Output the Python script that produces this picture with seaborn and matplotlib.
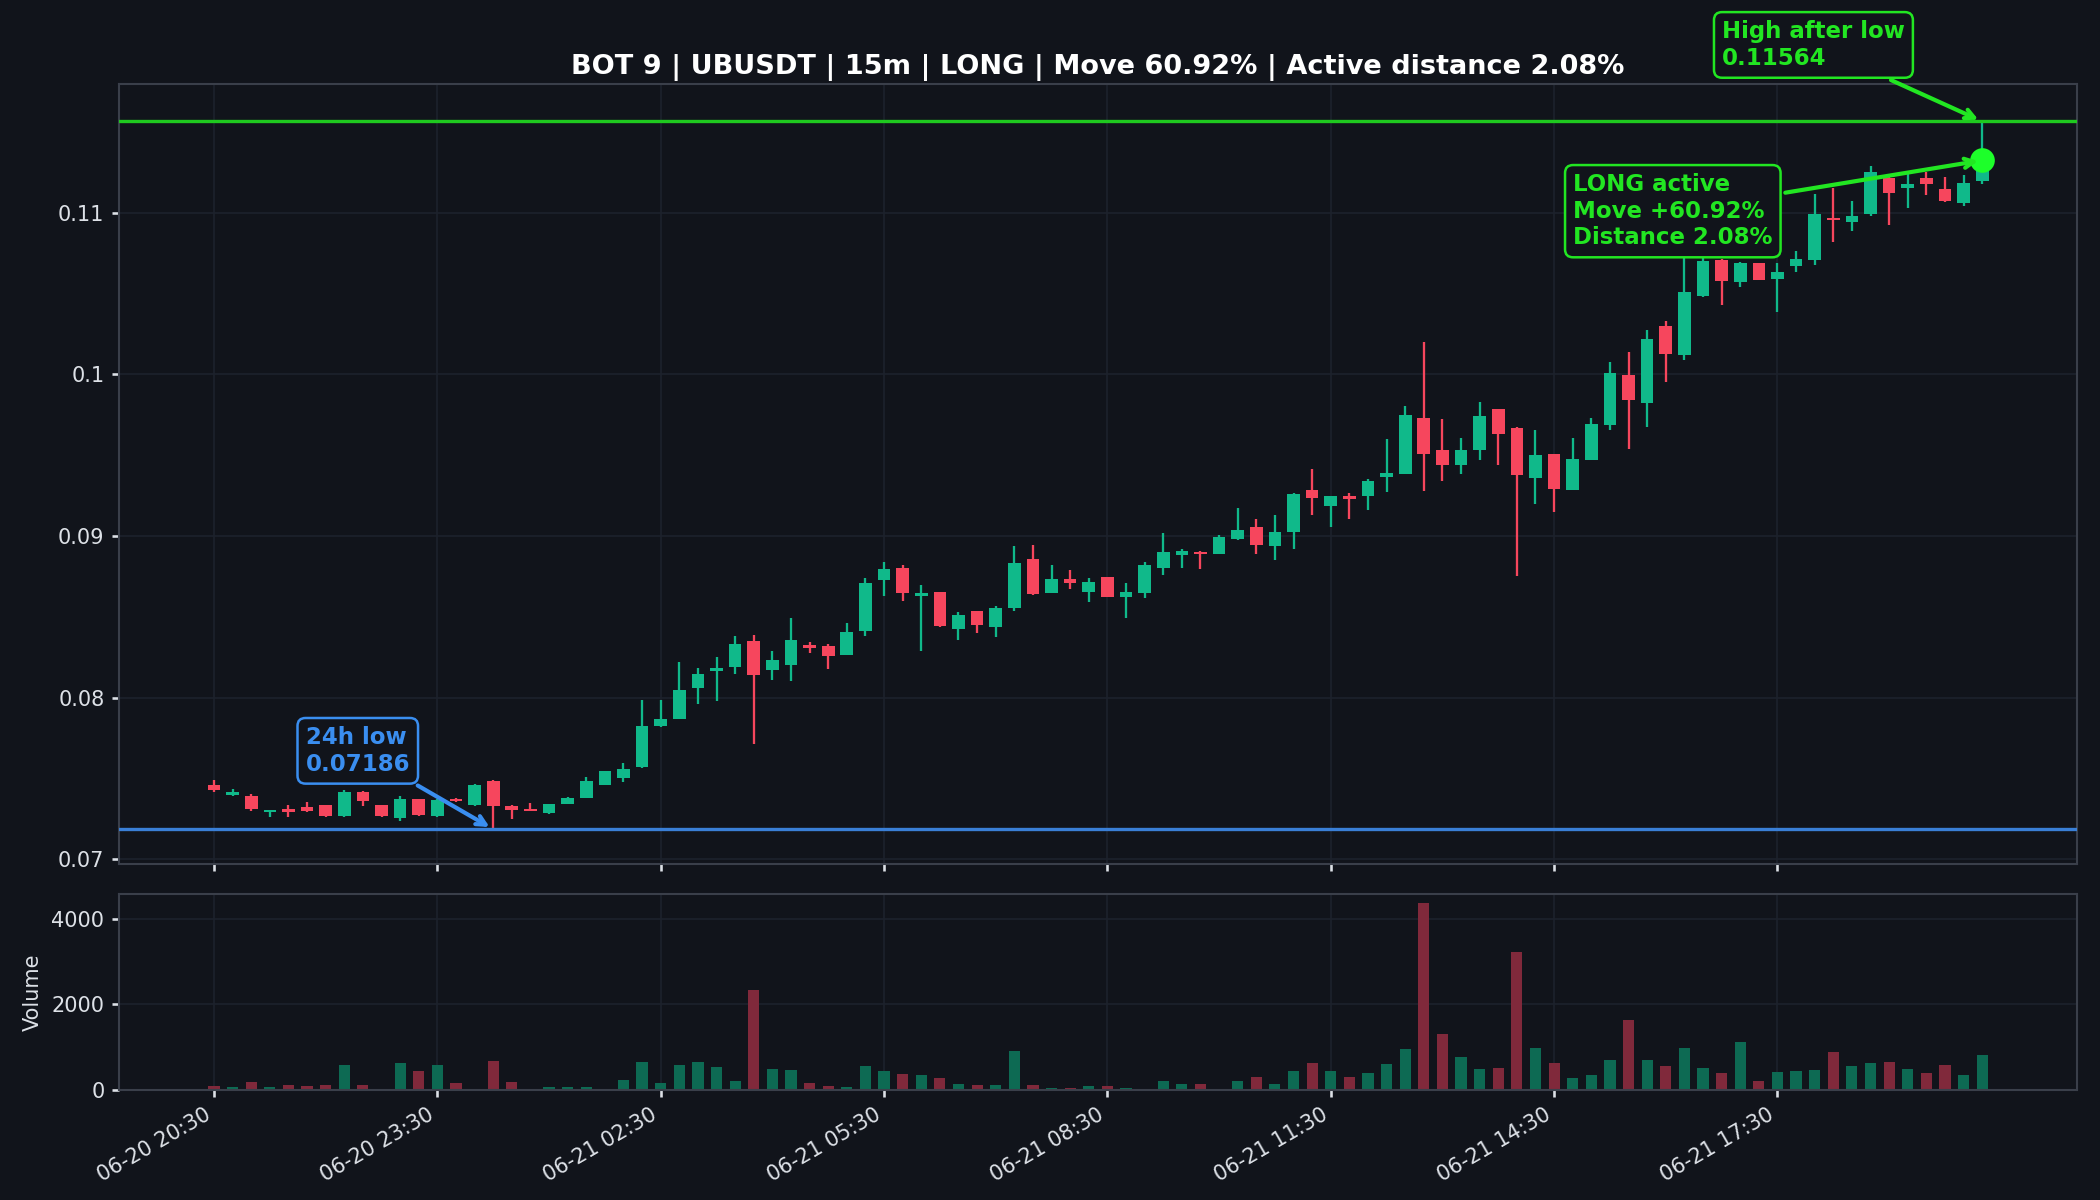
import numpy as np
import pandas as pd
import matplotlib
matplotlib.use("Agg")
import matplotlib.pyplot as plt
import seaborn as sns
from matplotlib.ticker import FuncFormatter

# ---------------- data ----------------
tick_positions = [0, 12, 24, 36, 48, 60, 72, 84]
tick_labels = ['06-20 20:30', '06-20 23:30', '06-21 02:30', '06-21 05:30',
               '06-21 08:30', '06-21 11:30', '06-21 14:30', '06-21 17:30']

opens = [0.07461, 0.07395, 0.07393, 0.07293, 0.07313, 0.07321, 0.07336, 0.07265, 0.07416, 0.07336,
         0.07255, 0.07373, 0.07265, 0.07375, 0.07336, 0.07486, 0.07327, 0.07313, 0.07286, 0.07342,
         0.07379, 0.07457, 0.07502, 0.07568, 0.07821, 0.07870, 0.08062, 0.08167, 0.08191, 0.08350,
         0.08171, 0.08204, 0.08325, 0.08319, 0.08265, 0.08414, 0.08727, 0.08799, 0.08628, 0.08652,
         0.08422, 0.08535, 0.08438, 0.08552, 0.08860, 0.08648, 0.08735, 0.08654, 0.08743, 0.08620,
         0.08644, 0.08799, 0.08879, 0.08899, 0.08891, 0.08980, 0.09052, 0.08937, 0.09025, 0.09282,
         0.09186, 0.09248, 0.09247, 0.09364, 0.09381, 0.09731, 0.09529, 0.09441, 0.09533, 0.09786,
         0.09669, 0.09358, 0.09504, 0.09286, 0.09469, 0.09688, 0.09996, 0.09823, 0.10299, 0.10117,
         0.10481, 0.10706, 0.10568, 0.10685, 0.10589, 0.10667, 0.10708, 0.10967, 0.10940, 0.10990,
         0.11216, 0.11154, 0.11212, 0.11145, 0.11062, 0.11196]
highs = [0.07492, 0.07435, 0.07404, 0.07307, 0.07338, 0.07352, 0.07338, 0.07426, 0.07420, 0.07338,
         0.07393, 0.07375, 0.07370, 0.07379, 0.07463, 0.07490, 0.07338, 0.07348, 0.07342, 0.07383,
         0.07509, 0.07548, 0.07595, 0.07986, 0.07986, 0.08218, 0.08183, 0.08253, 0.08381, 0.08387,
         0.08288, 0.08490, 0.08346, 0.08330, 0.08459, 0.08737, 0.08836, 0.08823, 0.08694, 0.08655,
         0.08530, 0.08537, 0.08566, 0.08936, 0.08943, 0.08819, 0.08788, 0.08737, 0.08745, 0.08706,
         0.08840, 0.09015, 0.08916, 0.08907, 0.09004, 0.09175, 0.09103, 0.09128, 0.09268, 0.09412,
         0.09248, 0.09264, 0.09354, 0.09597, 0.09801, 0.10200, 0.09725, 0.09607, 0.09827, 0.09788,
         0.09672, 0.09657, 0.09506, 0.09607, 0.09731, 0.10078, 0.10140, 0.10276, 0.10330, 0.10850,
         0.10720, 0.10710, 0.10695, 0.10690, 0.10691, 0.10760, 0.11114, 0.11154, 0.11070, 0.11288,
         0.11220, 0.11237, 0.11251, 0.11220, 0.11233, 0.11564]
lows = [0.07414, 0.07389, 0.07301, 0.07259, 0.07259, 0.07294, 0.07263, 0.07262, 0.07331, 0.07263,
        0.07235, 0.07270, 0.07259, 0.07356, 0.07331, 0.07186, 0.07249, 0.07301, 0.07280, 0.07342,
        0.07379, 0.07457, 0.07475, 0.07566, 0.07820, 0.07868, 0.07963, 0.07980, 0.08148, 0.07714,
        0.08109, 0.08103, 0.08274, 0.08177, 0.08263, 0.08383, 0.08630, 0.08599, 0.08290, 0.08439,
        0.08356, 0.08398, 0.08373, 0.08537, 0.08634, 0.08646, 0.08673, 0.08593, 0.08619, 0.08494,
        0.08614, 0.08757, 0.08803, 0.08794, 0.08885, 0.08976, 0.08887, 0.08850, 0.08918, 0.09130,
        0.09056, 0.09103, 0.09159, 0.09272, 0.09381, 0.09278, 0.09340, 0.09385, 0.09472, 0.09441,
        0.08751, 0.09196, 0.09148, 0.09284, 0.09467, 0.09653, 0.09535, 0.09673, 0.09951, 0.10086,
        0.10479, 0.10428, 0.10537, 0.10583, 0.10387, 0.10630, 0.10677, 0.10815, 0.10887, 0.10980,
        0.10924, 0.11031, 0.11110, 0.11068, 0.11041, 0.11175]
closes = [0.07426, 0.07416, 0.07311, 0.07307, 0.07290, 0.07296, 0.07265, 0.07414, 0.07358, 0.07265,
          0.07375, 0.07272, 0.07364, 0.07358, 0.07459, 0.07327, 0.07307, 0.07301, 0.07342, 0.07379,
          0.07482, 0.07548, 0.07560, 0.07825, 0.07869, 0.08046, 0.08146, 0.08183, 0.08331, 0.08140,
          0.08233, 0.08356, 0.08309, 0.08259, 0.08406, 0.08710, 0.08793, 0.08644, 0.08644, 0.08443,
          0.08509, 0.08447, 0.08554, 0.08830, 0.08640, 0.08731, 0.08706, 0.08714, 0.08623, 0.08651,
          0.08823, 0.08901, 0.08906, 0.08891, 0.08994, 0.09035, 0.08943, 0.09021, 0.09257, 0.09235,
          0.09248, 0.09231, 0.09338, 0.09391, 0.09749, 0.09509, 0.09441, 0.09529, 0.09739, 0.09632,
          0.09375, 0.09498, 0.09290, 0.09478, 0.09690, 0.10009, 0.09838, 0.10219, 0.10123, 0.10510,
          0.10702, 0.10574, 0.10691, 0.10585, 0.10630, 0.10712, 0.10990, 0.10954, 0.10977, 0.11251,
          0.11123, 0.11179, 0.11175, 0.11072, 0.11185, 0.11323]
volumes = [102, 79, 181, 79, 126, 102, 126, 575, 126, 31,
           622, 433, 575, 173, 15, 669, 197, 24, 79, 79,
           79, 31, 244, 646, 173, 575, 646, 528, 220, 2323,
           480, 457, 157, 102, 79, 551, 433, 362, 339, 268,
           150, 126, 126, 906, 126, 55, 55, 102, 102, 55,
           31, 220, 150, 150, 31, 220, 291, 150, 433, 630,
           433, 291, 386, 598, 953, 4354, 1307, 764, 480, 504,
           3220, 976, 622, 268, 339, 693, 1638, 693, 551, 976,
           504, 386, 1118, 220, 409, 433, 457, 882, 551, 622,
           646, 480, 386, 575, 339, 811]

low_24h = 0.07186
high_after_low = 0.11564
move_pct = 60.92
distance_pct = 2.08

# ---------------- style ----------------
BG = '#11141b'
GRID = '#1d222c'
SPINE = '#3a3f4a'
TXT = '#dde1e7'
GREEN = '#10b98a'
RED = '#f6465d'
GREEN_V = '#0d6a53'
RED_V = '#80293b'
LIME = '#22e622'
LIME_LINE = '#1fc91f'
BLUE = '#3a8ef0'
BLUE_LINE = '#3a7fd6'

sns.set_theme(style='darkgrid', rc={
    'axes.facecolor': BG, 'figure.facecolor': BG, 'savefig.facecolor': BG,
    'grid.color': GRID, 'grid.linewidth': 0.8,
    'axes.edgecolor': SPINE, 'axes.linewidth': 1.0,
    'text.color': TXT, 'xtick.color': TXT, 'ytick.color': TXT,
    'axes.labelcolor': TXT, 'xtick.bottom': True, 'ytick.left': True,
    'xtick.major.size': 3.5, 'ytick.major.size': 3.5,
    'xtick.labelsize': 10, 'ytick.labelsize': 10,
})
plt.rcParams['font.family'] = ['DejaVu Sans']

df = pd.DataFrame({'open': opens, 'high': highs, 'low': lows, 'close': closes, 'volume': volumes})
df['idx'] = np.arange(len(df))
df['dir'] = np.where(df['close'] >= df['open'], 'up', 'down')
n = len(df)

fig = plt.figure(figsize=(14, 8), dpi=150)
ax = fig.add_axes([0.0567, 0.28, 0.9324, 0.65])
axv = fig.add_axes([0.0567, 0.0917, 0.9324, 0.1633], sharex=ax)

# ---------------- candles ----------------
cols = np.where(df['dir'] == 'up', GREEN, RED)
ax.vlines(df['idx'], df['low'], df['high'], colors=cols, lw=1.1, zorder=2)
body = np.maximum((df['close'] - df['open']).abs(), 0.00005)
ax.bar(df['idx'], body, bottom=np.minimum(df['open'], df['close']), width=0.68,
       color=cols, linewidth=0, zorder=3)

ax.axhline(high_after_low, color=LIME_LINE, lw=1.6, zorder=4)
ax.axhline(low_24h, color=BLUE_LINE, lw=1.6, zorder=4)

last_i = n - 1
last_c = df['close'].iloc[-1]
ax.scatter([last_i], [last_c], s=140, color='#1dff2a', zorder=8, linewidths=0)

low_i = int(df['low'].idxmin())
high_i = int(df['high'].idxmax())

bbox_l = dict(boxstyle='round,pad=0.35', fc=BG, ec=LIME, lw=1.2)
ax.annotate(f'High after low\n{high_after_low:.5f}', xy=(high_i, high_after_low),
            xytext=(-81, 36.7), textcoords='offset points', ha='center', va='center',
            multialignment='left', color=LIME, fontsize=11, fontweight='bold',
            bbox=bbox_l, arrowprops=dict(arrowstyle='->', color=LIME, lw=2),
            annotation_clip=False, zorder=9)
ax.annotate(f'LONG active\nMove +{move_pct:.2f}%\nDistance {distance_pct:.2f}%',
            xy=(last_i, last_c), xytext=(-148.5, -24.4), textcoords='offset points',
            ha='center', va='center', multialignment='left', color=LIME, fontsize=11,
            fontweight='bold', bbox=bbox_l,
            arrowprops=dict(arrowstyle='->', color=LIME, lw=2), zorder=9)
ax.annotate(f'24h low\n{low_24h:.5f}', xy=(low_i, low_24h), xytext=(-65, 37.6),
            textcoords='offset points', ha='center', va='center', multialignment='left',
            color=BLUE, fontsize=11, fontweight='bold',
            bbox=dict(boxstyle='round,pad=0.35', fc=BG, ec=BLUE, lw=1.2),
            arrowprops=dict(arrowstyle='->', color=BLUE, lw=2), zorder=9)

ax.set_ylim(low_24h * 0.97, high_after_low * 1.02)
ax.set_xlim(-5.1, n - 1 + 5.1)
ax.yaxis.set_major_formatter(FuncFormatter(lambda v, p: f'{v:g}'))
ax.set_title(f'BOT 9 | UBUSDT | 15m | LONG | Move {move_pct:.2f}% | Active distance {distance_pct:.2f}%',
             fontsize=13, fontweight='bold', color='white', pad=5)
ax.tick_params(axis='x', labelbottom=False)

# ---------------- volume ----------------
sns.barplot(data=df, x='idx', y='volume', hue='dir', palette={'up': GREEN_V, 'down': RED_V},
            native_scale=True, dodge=False, width=0.6, errorbar=None, legend=False,
            saturation=1, linewidth=0, edgecolor='none', ax=axv)
axv.set_ylim(0, df['volume'].max() * 1.05)
axv.set_xlim(-5.1, n - 1 + 5.1)
axv.set_xticks(tick_positions)
axv.set_xticklabels(tick_labels, rotation=30, ha='right')
axv.set_xlabel('')
axv.set_ylabel('Volume', fontsize=10)
ax.set_xticks(tick_positions)

for a in (ax, axv):
    a.grid(True, color=GRID, lw=0.8)
    a.set_axisbelow(True)
    for s in a.spines.values():
        s.set_visible(True)
        s.set_color(SPINE)
        s.set_linewidth(1.0)

fig.savefig('out.png', dpi=150, facecolor=BG)
